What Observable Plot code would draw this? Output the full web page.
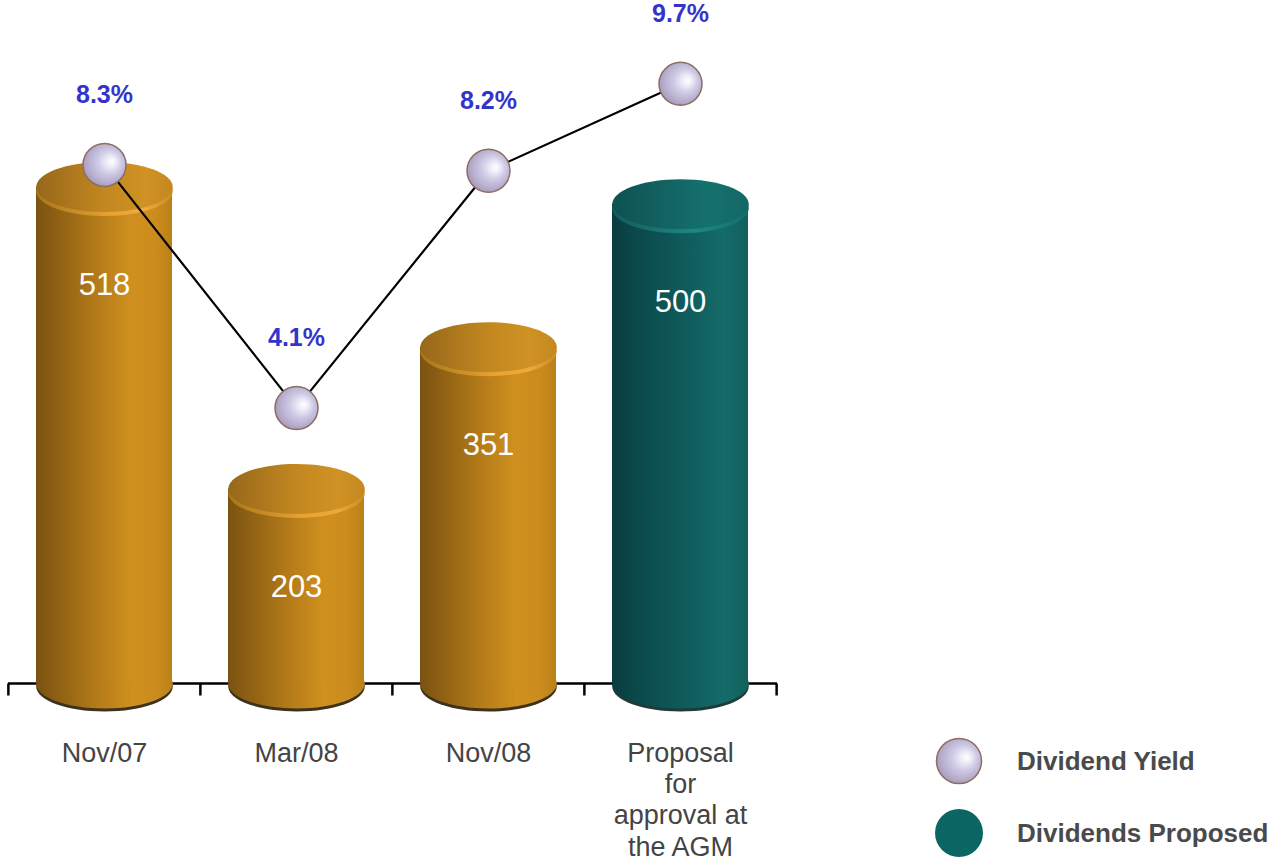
<!DOCTYPE html>
<html>
<head>
<meta charset="utf-8">
<script src="https://cdn.jsdelivr.net/npm/d3@7"></script>
<script src="https://cdn.jsdelivr.net/npm/@observablehq/plot@0.6"></script>
<style>
  html, body { margin: 0; padding: 0; background: #fff; }
  #chart { position: relative; width: 1274px; height: 863px; overflow: hidden; font-family: "Liberation Sans", Arial, sans-serif; }
  #chart > svg.layer { position: absolute; left: 0; top: 0; }
  .legend { position: absolute; left: 934px; top: 736px; }
  .legend-item { position: absolute; left: 0; display: flex; align-items: center; white-space: nowrap; }
  .legend-item svg { display: block; }
  .legend-item span { margin-left: 33px; font-size: 26px; font-weight: bold; color: #4a4a4a; letter-spacing: 0; }
</style>
</head>
<body>
<!-- shared gradient definitions -->
<svg width="0" height="0" style="position:absolute">
  <defs>
    <linearGradient id="goldBody" x1="0" x2="1" y1="0" y2="0">
      <stop offset="0" stop-color="#7a5210"/>
      <stop offset="0.12" stop-color="#8a5d13"/>
      <stop offset="0.45" stop-color="#b47b19"/>
      <stop offset="0.7" stop-color="#cf901f"/>
      <stop offset="0.87" stop-color="#cc8d1e"/>
      <stop offset="1" stop-color="#bb8018"/>
    </linearGradient>
    <linearGradient id="goldTop" x1="0" x2="1" y1="0" y2="0">
      <stop offset="0" stop-color="#96681a"/>
      <stop offset="0.5" stop-color="#c28720"/>
      <stop offset="0.8" stop-color="#d09223"/>
      <stop offset="1" stop-color="#c4881f"/>
    </linearGradient>
    <linearGradient id="goldRim" x1="0" x2="1" y1="0" y2="0">
      <stop offset="0" stop-color="#a8751b"/>
      <stop offset="0.55" stop-color="#e8a332"/>
      <stop offset="0.8" stop-color="#eeaa3a"/>
      <stop offset="1" stop-color="#c98c24"/>
    </linearGradient>
    <linearGradient id="tealBody" x1="0" x2="1" y1="0" y2="0">
      <stop offset="0" stop-color="#093c3f"/>
      <stop offset="0.2" stop-color="#0c4a4c"/>
      <stop offset="0.6" stop-color="#105f5e"/>
      <stop offset="0.82" stop-color="#146b68"/>
      <stop offset="1" stop-color="#11615d"/>
    </linearGradient>
    <linearGradient id="tealTop" x1="0" x2="1" y1="0" y2="0">
      <stop offset="0" stop-color="#0e5152"/>
      <stop offset="0.7" stop-color="#15716e"/>
      <stop offset="1" stop-color="#136864"/>
    </linearGradient>
    <linearGradient id="tealRim" x1="0" x2="1" y1="0" y2="0">
      <stop offset="0" stop-color="#115d5c"/>
      <stop offset="0.6" stop-color="#1d8883"/>
      <stop offset="1" stop-color="#156e6a"/>
    </linearGradient>
    <radialGradient id="sphere" cx="0.55" cy="0.45" r="0.6" fx="0.68" fy="0.42">
      <stop offset="0" stop-color="#ffffff"/>
      <stop offset="0.2" stop-color="#ececf7"/>
      <stop offset="0.45" stop-color="#cfcbe6"/>
      <stop offset="0.8" stop-color="#b4abcb"/>
      <stop offset="1" stop-color="#a394b0"/>
    </radialGradient>
  </defs>
</svg>

<div id="chart">
  <div class="legend">
    <div class="legend-item" style="top:0">
      <svg width="50" height="50"><circle cx="25" cy="25" r="22.5" fill="url(#sphere)" stroke="#8c6d62" stroke-width="1.5"/></svg>
      <span>Dividend Yield</span>
    </div>
    <div class="legend-item" style="top:72px">
      <svg width="50" height="50"><circle cx="25" cy="25" r="24" fill="#0b6663"/></svg>
      <span>Dividends Proposed</span>
    </div>
  </div>
</div>

<script>
// Dividends per period and the dividend yield on each date
const periods = ["Nov/07", "Mar/08", "Nov/08", "Proposal"];
const tickLabels = ["Nov/07", "Mar/08", "Nov/08", "Proposal\nfor\napproval at\nthe AGM"];
const dividends = [518, 203, 351, 500];
const yields = [8.3, 4.1, 8.2, 9.7];
const yieldLabels = ["8.3%", "4.1%", "8.2%", "9.7%"];
const status = ["paid", "paid", "paid", "proposed"];

const rows = periods.map((p, i) => ({
  period: p,
  label: tickLabels[i],
  dividend: dividends[i],
  yield: yields[i],
  yieldLabel: yieldLabels[i],
  status: status[i]
}));

const W = 800, H = 863;
const marginLeft = 8, marginRight = 23;
const paddingInner = 0.29, paddingOuter = 0.145;
const step = (W - marginLeft - marginRight) / (periods.length - paddingInner + 2 * paddingOuter);
const bandwidth = step * (1 - paddingInner);
const font = "Liberation Sans, Arial, sans-serif";

// ellipse drawn as a custom dot symbol (cylinder caps)
const ellipse = (rx, ry) => ({
  draw(ctx) {
    const k = 0.5523;
    ctx.moveTo(-rx, 0);
    ctx.bezierCurveTo(-rx, -ry * k, -rx * k, -ry, 0, -ry);
    ctx.bezierCurveTo(rx * k, -ry, rx, -ry * k, rx, 0);
    ctx.bezierCurveTo(rx, ry * k, rx * k, ry, 0, ry);
    ctx.bezierCurveTo(-rx * k, ry, -rx, ry * k, -rx, 0);
    ctx.closePath();
  }
});
const cap = ellipse(bandwidth / 2, 25);
// short downward tick for the category axis
const tickMark = { draw(ctx) { ctx.moveTo(0, 0); ctx.lineTo(0, 12); } };

const palettes = [
  { status: "paid", body: "url(#goldBody)", top: "url(#goldTop)", rim: "url(#goldRim)", shadow: "#2a1b06" },
  { status: "proposed", body: "url(#tealBody)", top: "url(#tealTop)", rim: "url(#tealRim)", shadow: "#082424" }
];

const cylinderMarks = palettes.flatMap(p => {
  const sel = d => d.status === p.status;
  return [
    Plot.dot(rows, { filter: sel, x: "period", y: () => 0, symbol: cap, fill: p.shadow, dy: 3, fillOpacity: 0.9 }),
    Plot.dot(rows, { filter: sel, x: "period", y: () => 0, symbol: cap, fill: p.body }),
    Plot.barY(rows, { filter: sel, x: "period", y: "dividend", fill: p.body }),
    Plot.dot(rows, { filter: sel, x: "period", y: "dividend", symbol: cap, fill: p.rim, dy: 4 }),
    Plot.dot(rows, { filter: sel, x: "period", y: "dividend", symbol: cap, fill: p.top })
  ];
});

const bars = Plot.plot({
  width: W, height: H,
  marginLeft, marginRight, marginTop: 108, marginBottom: 180,
  style: { background: "transparent", overflow: "visible" },
  x: { type: "band", domain: periods, paddingInner, paddingOuter, axis: null },
  y: { domain: [0, 600], axis: null },
  marks: [
    Plot.ruleY([0], { stroke: "#000", strokeWidth: 2.5 }),
    Plot.dot(periods, { x: d => d, y: () => 0, symbol: tickMark, stroke: "#000", strokeWidth: 2.5, dx: -step / 2 }),
    Plot.dot(periods.slice(-1), { x: d => d, y: () => 0, symbol: tickMark, stroke: "#000", strokeWidth: 2.5, dx: step / 2 }),
    ...cylinderMarks,
    Plot.text(rows, { x: "period", y: "dividend", text: d => String(d.dividend), dy: 98, fill: "#fff", fontSize: 31, fontFamily: font }),
    Plot.text(rows, { x: "period", y: () => 0, text: "label", dy: 56, lineAnchor: "top", lineHeight: 1.16, fontSize: 27, fill: "#444", fontFamily: font })
  ]
});
bars.classList.add("layer");

const line = Plot.plot({
  width: W, height: H,
  marginLeft, marginRight, marginTop: 66, marginBottom: 218,
  style: { background: "transparent", overflow: "visible" },
  x: { type: "band", domain: periods, paddingInner, paddingOuter, axis: null },
  y: { domain: [0, 10], axis: null },
  marks: [
    Plot.line(rows, { x: "period", y: "yield", stroke: "#000", strokeWidth: 2.2 }),
    Plot.dot(rows, { x: "period", y: "yield", r: 21.5, fill: "url(#sphere)", stroke: "#8c6d62", strokeWidth: 1.5 }),
    Plot.text(rows, { x: "period", y: "yield", text: "yieldLabel", dy: -70, fill: "#3434cc", fontSize: 25, fontWeight: "bold", fontFamily: font })
  ]
});
line.classList.add("layer");

const chart = document.getElementById("chart");
chart.insertBefore(line, chart.firstChild);
chart.insertBefore(bars, chart.firstChild);
</script>
</body>
</html>
